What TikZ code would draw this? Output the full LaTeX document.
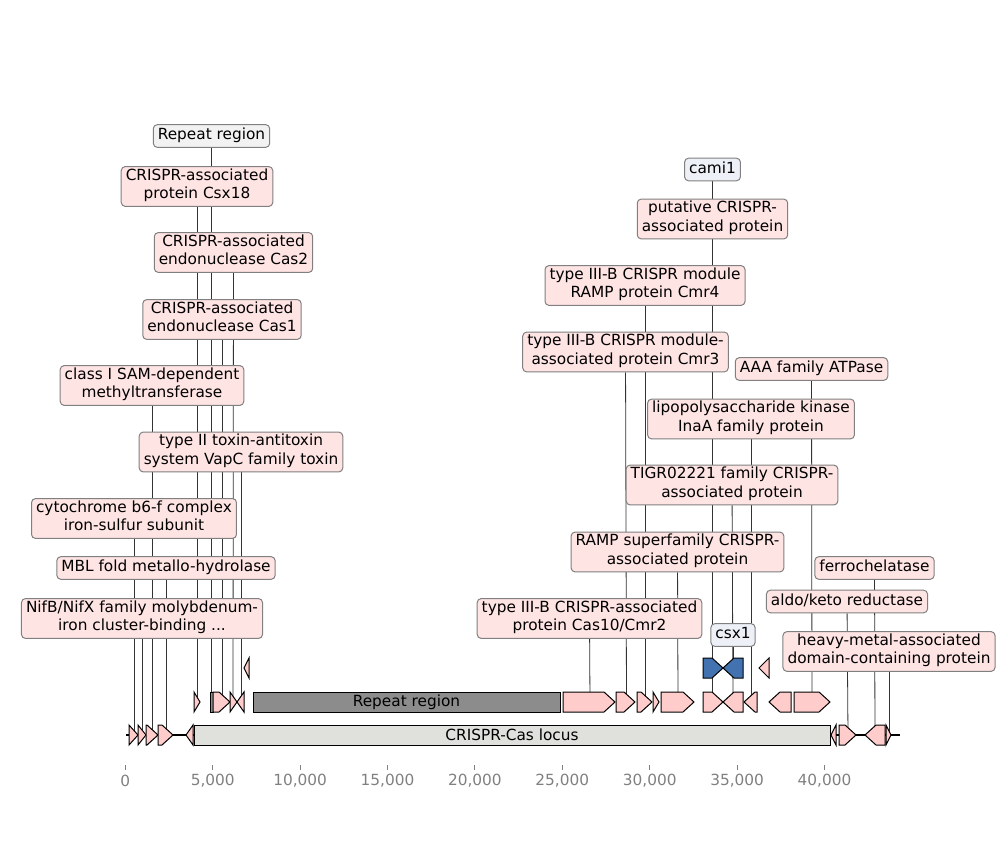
\documentclass[tikz,border=0pt]{standalone}
\usepackage{fontspec}
\setmainfont{DejaVu Sans}
\usepackage{tikz}
\usetikzlibrary{backgrounds}

\definecolor{featpink}{HTML}{FFCCCC}
\definecolor{tagpink}{HTML}{FFE4E4}
\definecolor{featblue}{HTML}{4372B0}
\definecolor{tagblue}{HTML}{EDF1F7}
\definecolor{repgrey}{HTML}{8C8C8C}
\definecolor{taggrey}{HTML}{F2F2F2}
\definecolor{locusgrey}{HTML}{E0E0DC}
\definecolor{edgegrey}{HTML}{808080}

\begin{document}
\begin{tikzpicture}[x=0.75pt,y=0.75pt,yscale=-1,xscale=1,
  every node/.style={font=\fontsize{11.5pt}{13.8pt}\selectfont},
  tagbox/.style={draw=edgegrey,line width=0.75pt,rounded corners=3pt,fill=tagpink,
    align=center,inner xsep=3.4pt,inner ysep=1.6pt,
    execute at begin node=\strut,execute at end node=\strut},
  bluetag/.style={tagbox,fill=tagblue},
  greytag/.style={tagbox,fill=taggrey},
  gene/.style={draw=black,line width=0.75pt,fill=featpink},
  bluegene/.style={gene,fill=featblue},
  repeatbox/.style={gene,fill=repgrey},
  stem/.style={draw=black!80,line width=0.6pt},
  tickmark/.style={draw=edgegrey,line width=0.75pt},
  ticktext/.style={text=edgegrey}]
\useasboundingbox (0,0) rectangle (1000,860);

%Baseline
\draw [line width=1.5pt] (126,735) -- (900,735) ;

%Level 0 features
\draw [gene] (129,725) -- (138,735) -- (129,745) -- cycle ;
\draw [gene] (138,725) -- (146,735) -- (138,745) -- cycle ;
\draw [gene] (146,725) -- (147,725) -- (158,735) -- (147,745) -- (146,745) -- cycle ;
\draw [gene] (158,725) -- (162,725) -- (173,735) -- (162,745) -- (158,745) -- cycle ;
\draw [gene] (193,725) -- (186,735) -- (193,745) -- cycle ;
\draw [gene,fill=locusgrey] (194,725) -- (830,725) -- (830,745) -- (194,745) -- cycle ;
\draw [gene] (836,725) -- (831,735) -- (836,745) -- cycle ;
\draw [gene] (839,725) -- (845,725) -- (856,735) -- (845,745) -- (839,745) -- cycle ;
\draw [gene] (885,725) -- (876,725) -- (865,735) -- (876,745) -- (885,745) -- cycle ;
\draw [gene] (886,725) -- (891,735) -- (886,745) -- cycle ;

%Level 1 features
\draw [gene] (194,692) -- (200,702) -- (194,712) -- cycle ;
\draw [repeatbox] (210,692) -- (213,692) -- (213,712) -- (210,712) -- cycle ;
\draw [gene] (213,692) -- (219,692) -- (230,702) -- (219,712) -- (213,712) -- cycle ;
\draw [gene] (230,692) -- (237,702) -- (230,712) -- cycle ;
\draw [gene] (244,692) -- (237,702) -- (244,712) -- cycle ;
\draw [repeatbox] (253,692) -- (560,692) -- (560,712) -- (253,712) -- cycle ;
\draw [gene] (563,692) -- (604,692) -- (615,702) -- (604,712) -- (563,712) -- cycle ;
\draw [gene] (616,692) -- (624,692) -- (635,702) -- (624,712) -- (616,712) -- cycle ;
\draw [gene] (637,692) -- (641,692) -- (652,702) -- (641,712) -- (637,712) -- cycle ;
\draw [gene] (653,692) -- (659,702) -- (653,712) -- cycle ;
\draw [gene] (661,692) -- (683,692) -- (694,702) -- (683,712) -- (661,712) -- cycle ;
\draw [gene] (703,692) -- (712,692) -- (723,702) -- (712,712) -- (703,712) -- cycle ;
\draw [gene] (743,692) -- (734,692) -- (723,702) -- (734,712) -- (743,712) -- cycle ;
\draw [gene] (757,692) -- (755,692) -- (744,702) -- (755,712) -- (757,712) -- cycle ;
\draw [gene] (791,692) -- (780,692) -- (769,702) -- (780,712) -- (791,712) -- cycle ;
\draw [gene] (794,692) -- (819,692) -- (830,702) -- (819,712) -- (794,712) -- cycle ;

%Level 2 features
\draw [gene] (249,658) -- (244,668) -- (249,678) -- cycle ;
\draw [bluegene] (703,658) -- (712,658) -- (723,668) -- (712,678) -- (703,678) -- cycle ;
\draw [bluegene] (743,658) -- (734,658) -- (723,668) -- (734,678) -- (743,678) -- cycle ;
\draw [gene] (769,658) -- (759,668) -- (769,678) -- cycle ;

% Inline texts
\node (tRepeat) at (406.5,702) {Repeat region};
\node (tLocus) at (512,735) {CRISPR-Cas locus};

% Feature anchors
\coordinate (fCyto) at (134,735);
\coordinate (fNifB) at (142,735);
\coordinate (fSAM) at (152,735);
\coordinate (fMBL) at (166,735);
\coordinate (fAldo) at (848,735);
\coordinate (fFerro) at (875,735);
\coordinate (fHeavy) at (889,735);
\coordinate (fCsx18) at (197,702);
\coordinate (fRepeat) at (211.5,702);
\coordinate (fCas1) at (222,702);
\coordinate (fCas2) at (233,702);
\coordinate (fVapC) at (241,702);
\coordinate (fCas10) at (590,702);
\coordinate (fCmr3) at (626.5,702);
\coordinate (fCmr4) at (645,702);
\coordinate (fRAMP) at (678,702);
\coordinate (fPutative) at (712.5,702);
\coordinate (fTIGR) at (733,702);
\coordinate (fLPS) at (751,702);
\coordinate (fAAA) at (812,702);
\coordinate (fCami) at (712.5,668);
\coordinate (fCsx1) at (733,668);

% Text Node
\node [greytag] (lRepeat) at (211.5,136) {Repeat region};
% Text Node
\node [tagbox] (lCsx18) at (197,186.5) {CRISPR-associated\\protein Csx18};
% Text Node
\node [tagbox] (lCas2) at (233.5,252.5) {CRISPR-associated\\endonuclease Cas2};
% Text Node
\node [tagbox] (lCas1) at (222,319.5) {CRISPR-associated\\endonuclease Cas1};
% Text Node
\node [tagbox] (lSAM) at (152,385.5) {class I SAM-dependent\\methyltransferase};
% Text Node
\node [tagbox] (lVapC) at (241,452) {type II toxin-antitoxin\\system VapC family toxin};
% Text Node
\node [tagbox] (lCyto) at (134,518.5) {cytochrome b6-f complex\\iron-sulfur subunit};
% Text Node
\node [tagbox] (lMBL) at (166,568) {MBL fold metallo-hydrolase};
% Text Node
\node [tagbox] (lNifB) at (142,618.5) {NifB/NifX family molybdenum-\\iron cluster-binding ...};
% Text Node
\node [bluetag] (lCami) at (712.5,169.5) {cami1};
% Text Node
\node [tagbox] (lPutative) at (712.5,219) {putative CRISPR-\\associated protein};
% Text Node
\node [tagbox] (lCmr4) at (645,285.5) {type III-B CRISPR module\\RAMP protein Cmr4};
% Text Node
\node [tagbox] (lCmr3) at (625.5,352) {type III-B CRISPR module-\\associated protein Cmr3};
% Text Node
\node [tagbox] (lAAA) at (811.5,369) {AAA family ATPase};
% Text Node
\node [tagbox] (lLPS) at (751,419) {lipopolysaccharide kinase\\InaA family protein};
% Text Node
\node [tagbox] (lTIGR) at (732,485) {TIGR02221 family CRISPR-\\associated protein};
% Text Node
\node [tagbox] (lRAMP) at (677.5,552) {RAMP superfamily CRISPR-\\associated protein};
% Text Node
\node [tagbox] (lFerro) at (874.5,568) {ferrochelatase};
% Text Node
\node [tagbox] (lAldo) at (847,601.5) {aldo/keto reductase};
% Text Node
\node [tagbox] (lCas10) at (589.5,618.5) {type III-B CRISPR-associated\\protein Cas10/Cmr2};
% Text Node
\node [bluetag] (lCsx1) at (733,635) {csx1};
% Text Node
\node [tagbox] (lHeavy) at (889,651.5) {heavy-metal-associated\\domain-containing protein};

% Stems behind the boxes
\begin{pgfonlayer}{background}
\draw [stem] (lRepeat) -- (fRepeat) ;
\draw [stem] (lCsx18) -- (fCsx18) ;
\draw [stem] (lCas2) -- (fCas2) ;
\draw [stem] (lCas1) -- (fCas1) ;
\draw [stem] (lSAM) -- (fSAM) ;
\draw [stem] (lVapC) -- (fVapC) ;
\draw [stem] (lCyto) -- (fCyto) ;
\draw [stem] (lMBL) -- (fMBL) ;
\draw [stem] (lNifB) -- (fNifB) ;
\draw [stem] (lCami) -- (fCami) ;
\draw [stem] (lPutative) -- (fPutative) ;
\draw [stem] (lCmr4) -- (fCmr4) ;
\draw [stem] (lCmr3) -- (fCmr3) ;
\draw [stem] (lAAA) -- (fAAA) ;
\draw [stem] (lLPS) -- (fLPS) ;
\draw [stem] (lTIGR) -- (fTIGR) ;
\draw [stem] (lRAMP) -- (fRAMP) ;
\draw [stem] (lFerro) -- (fFerro) ;
\draw [stem] (lAldo) -- (fAldo) ;
\draw [stem] (lCas10) -- (fCas10) ;
\draw [stem] (lCsx1) -- (fCsx1) ;
\draw [stem] (lHeavy) -- (fHeavy) ;
\end{pgfonlayer}

%Axis ticks
\draw [tickmark] (125.3,765) -- (125.3,770) ;
\draw [tickmark] (212.7,765) -- (212.7,770) ;
\draw [tickmark] (300.1,765) -- (300.1,770) ;
\draw [tickmark] (387.5,765) -- (387.5,770) ;
\draw [tickmark] (474.9,765) -- (474.9,770) ;
\draw [tickmark] (562.3,765) -- (562.3,770) ;
\draw [tickmark] (649.7,765) -- (649.7,770) ;
\draw [tickmark] (737.1,765) -- (737.1,770) ;
\draw [tickmark] (824.5,765) -- (824.5,770) ;

% Tick labels
\node [ticktext] (x0) at (125.3,781) {0};
\node [ticktext] (x5) at (212.7,781) {5,000};
\node [ticktext] (x10) at (300.1,781) {10,000};
\node [ticktext] (x15) at (387.5,781) {15,000};
\node [ticktext] (x20) at (474.9,781) {20,000};
\node [ticktext] (x25) at (562.3,781) {25,000};
\node [ticktext] (x30) at (649.7,781) {30,000};
\node [ticktext] (x35) at (737.1,781) {35,000};
\node [ticktext] (x40) at (824.5,781) {40,000};

\end{tikzpicture}
\end{document}
